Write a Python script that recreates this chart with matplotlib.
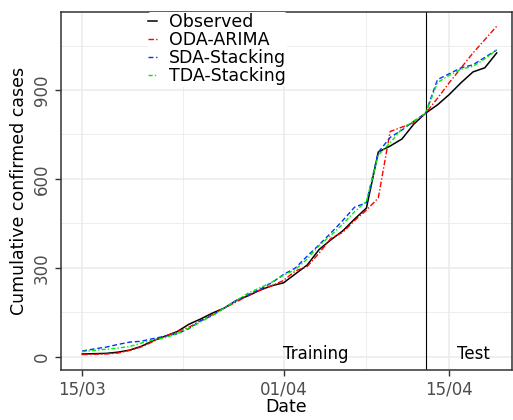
import matplotlib
matplotlib.use("Agg")
import matplotlib.pyplot as plt
import matplotlib.dates as mdates
import numpy as np
import pandas as pd

dates = pd.date_range("2020-03-15", "2020-04-19", freq="D")

observed = [10, 11, 12, 16, 23, 36, 55, 70, 85, 110, 128, 148, 165, 190, 206, 225,
            240, 250, 280, 310, 362, 395, 425, 465, 502, 691, 711, 735, 785, 822,
            850, 885, 925, 961, 975, 1025]
oda_arima = [8, 9, 10, 13, 22, 34, 52, 70, 85, 100, 122, 143, 165, 185, 207, 225,
             240, 258, 290, 305, 350, 400, 420, 460, 495, 536, 760, 775, 790, 822,
             872, 925, 975, 1025, 1070, 1115]
sda_stacking = [20, 27, 33, 42, 50, 53, 62, 70, 78, 95, 122, 140, 165, 190, 210, 228,
                250, 278, 300, 340, 378, 418, 460, 505, 520, 690, 740, 765, 795, 822,
                935, 955, 975, 985, 1010, 1035]
tda_stacking = [18, 22, 26, 30, 35, 47, 57, 65, 78, 97, 118, 140, 165, 190, 215, 233,
                252, 275, 295, 330, 375, 410, 448, 490, 525, 680, 722, 770, 795, 822,
                925, 950, 970, 980, 1005, 1035]

series_names = ["Observed", "ODA-ARIMA", "SDA-Stacking", "TDA-Stacking"]
split_date = pd.Timestamp("2020-04-13")
x_major = pd.to_datetime(["2020-03-15 00:00", "2020-04-01 00:00", "2020-04-15 00:00"])
x_minor = pd.to_datetime(["2020-03-23 12:00", "2020-04-08 00:00"])
y_major = [0, 300, 600, 900]
y_minor = [150, 450, 750, 1050]

fig = plt.figure(figsize=(5.13, 4.20), dpi=100)
ax = fig.add_axes([61/513, 50/420, 451/513, 358/420])

styles = [
    dict(color="black", linestyle="-", lw=1.1),
    dict(color="#FF0000", linestyle=(0, (4, 1.5, 1, 1.5)), lw=1.0),
    dict(color="#0033FF", linestyle=(0, (3.5, 2)), lw=1.0),
    dict(color="#00EE00", linestyle=(0, (3, 1.5, 1, 1.5)), lw=1.0),
]
data = [observed, oda_arima, sda_stacking, tda_stacking]
for name, vals, st in zip(series_names, data, styles):
    ax.plot(dates, vals, label=name, zorder=3, **st)

ax.axvline(split_date, color="black", lw=0.8, zorder=2)

ax.set_xlim(pd.Timestamp("2020-03-13 05:00"), pd.Timestamp("2020-04-20 07:00"))
ax.set_ylim(-44, 1163)

ax.set_xticks(x_major)
ax.set_xticks(x_minor, minor=True)
ax.xaxis.set_major_formatter(mdates.DateFormatter("%d/%m"))
ax.xaxis.set_minor_formatter(plt.NullFormatter())
ax.set_yticks(y_major)
ax.set_yticks(y_minor, minor=True)

ax.grid(which="major", color="#EBEBEB", lw=1.1, zorder=0)
ax.grid(which="minor", color="#EBEBEB", lw=0.6, zorder=0)
ax.set_axisbelow(True)

for s in ax.spines.values():
    s.set_color("#333333")
    s.set_linewidth(1.1)

ax.tick_params(which="major", length=4, width=1.0, color="#333333",
               labelcolor="#4D4D4D", labelsize=12)
ax.tick_params(which="minor", length=0)
for lab in ax.get_yticklabels():
    lab.set_rotation(90)
    lab.set_va("center")

ax.set_xlabel("Date", fontsize=12.5, labelpad=0)
ax.set_ylabel("Cumulative confirmed cases", fontsize=12.5, labelpad=3)

ax.text(pd.Timestamp("2020-04-03 17:00"), 10, "Training", fontsize=12,
        ha="center", va="center")
ax.text(pd.Timestamp("2020-04-17"), 10, "Test", fontsize=12,
        ha="center", va="center")

leg = ax.legend(loc="upper left", bbox_to_anchor=(0.192, 1.0), fontsize=12.5,
                frameon=True, framealpha=1, edgecolor="none", facecolor="white",
                handlelength=0.5, handletextpad=0.7, labelspacing=0.0,
                borderpad=0.05, borderaxespad=0.0)

fig.savefig("out.png", dpi=100)
